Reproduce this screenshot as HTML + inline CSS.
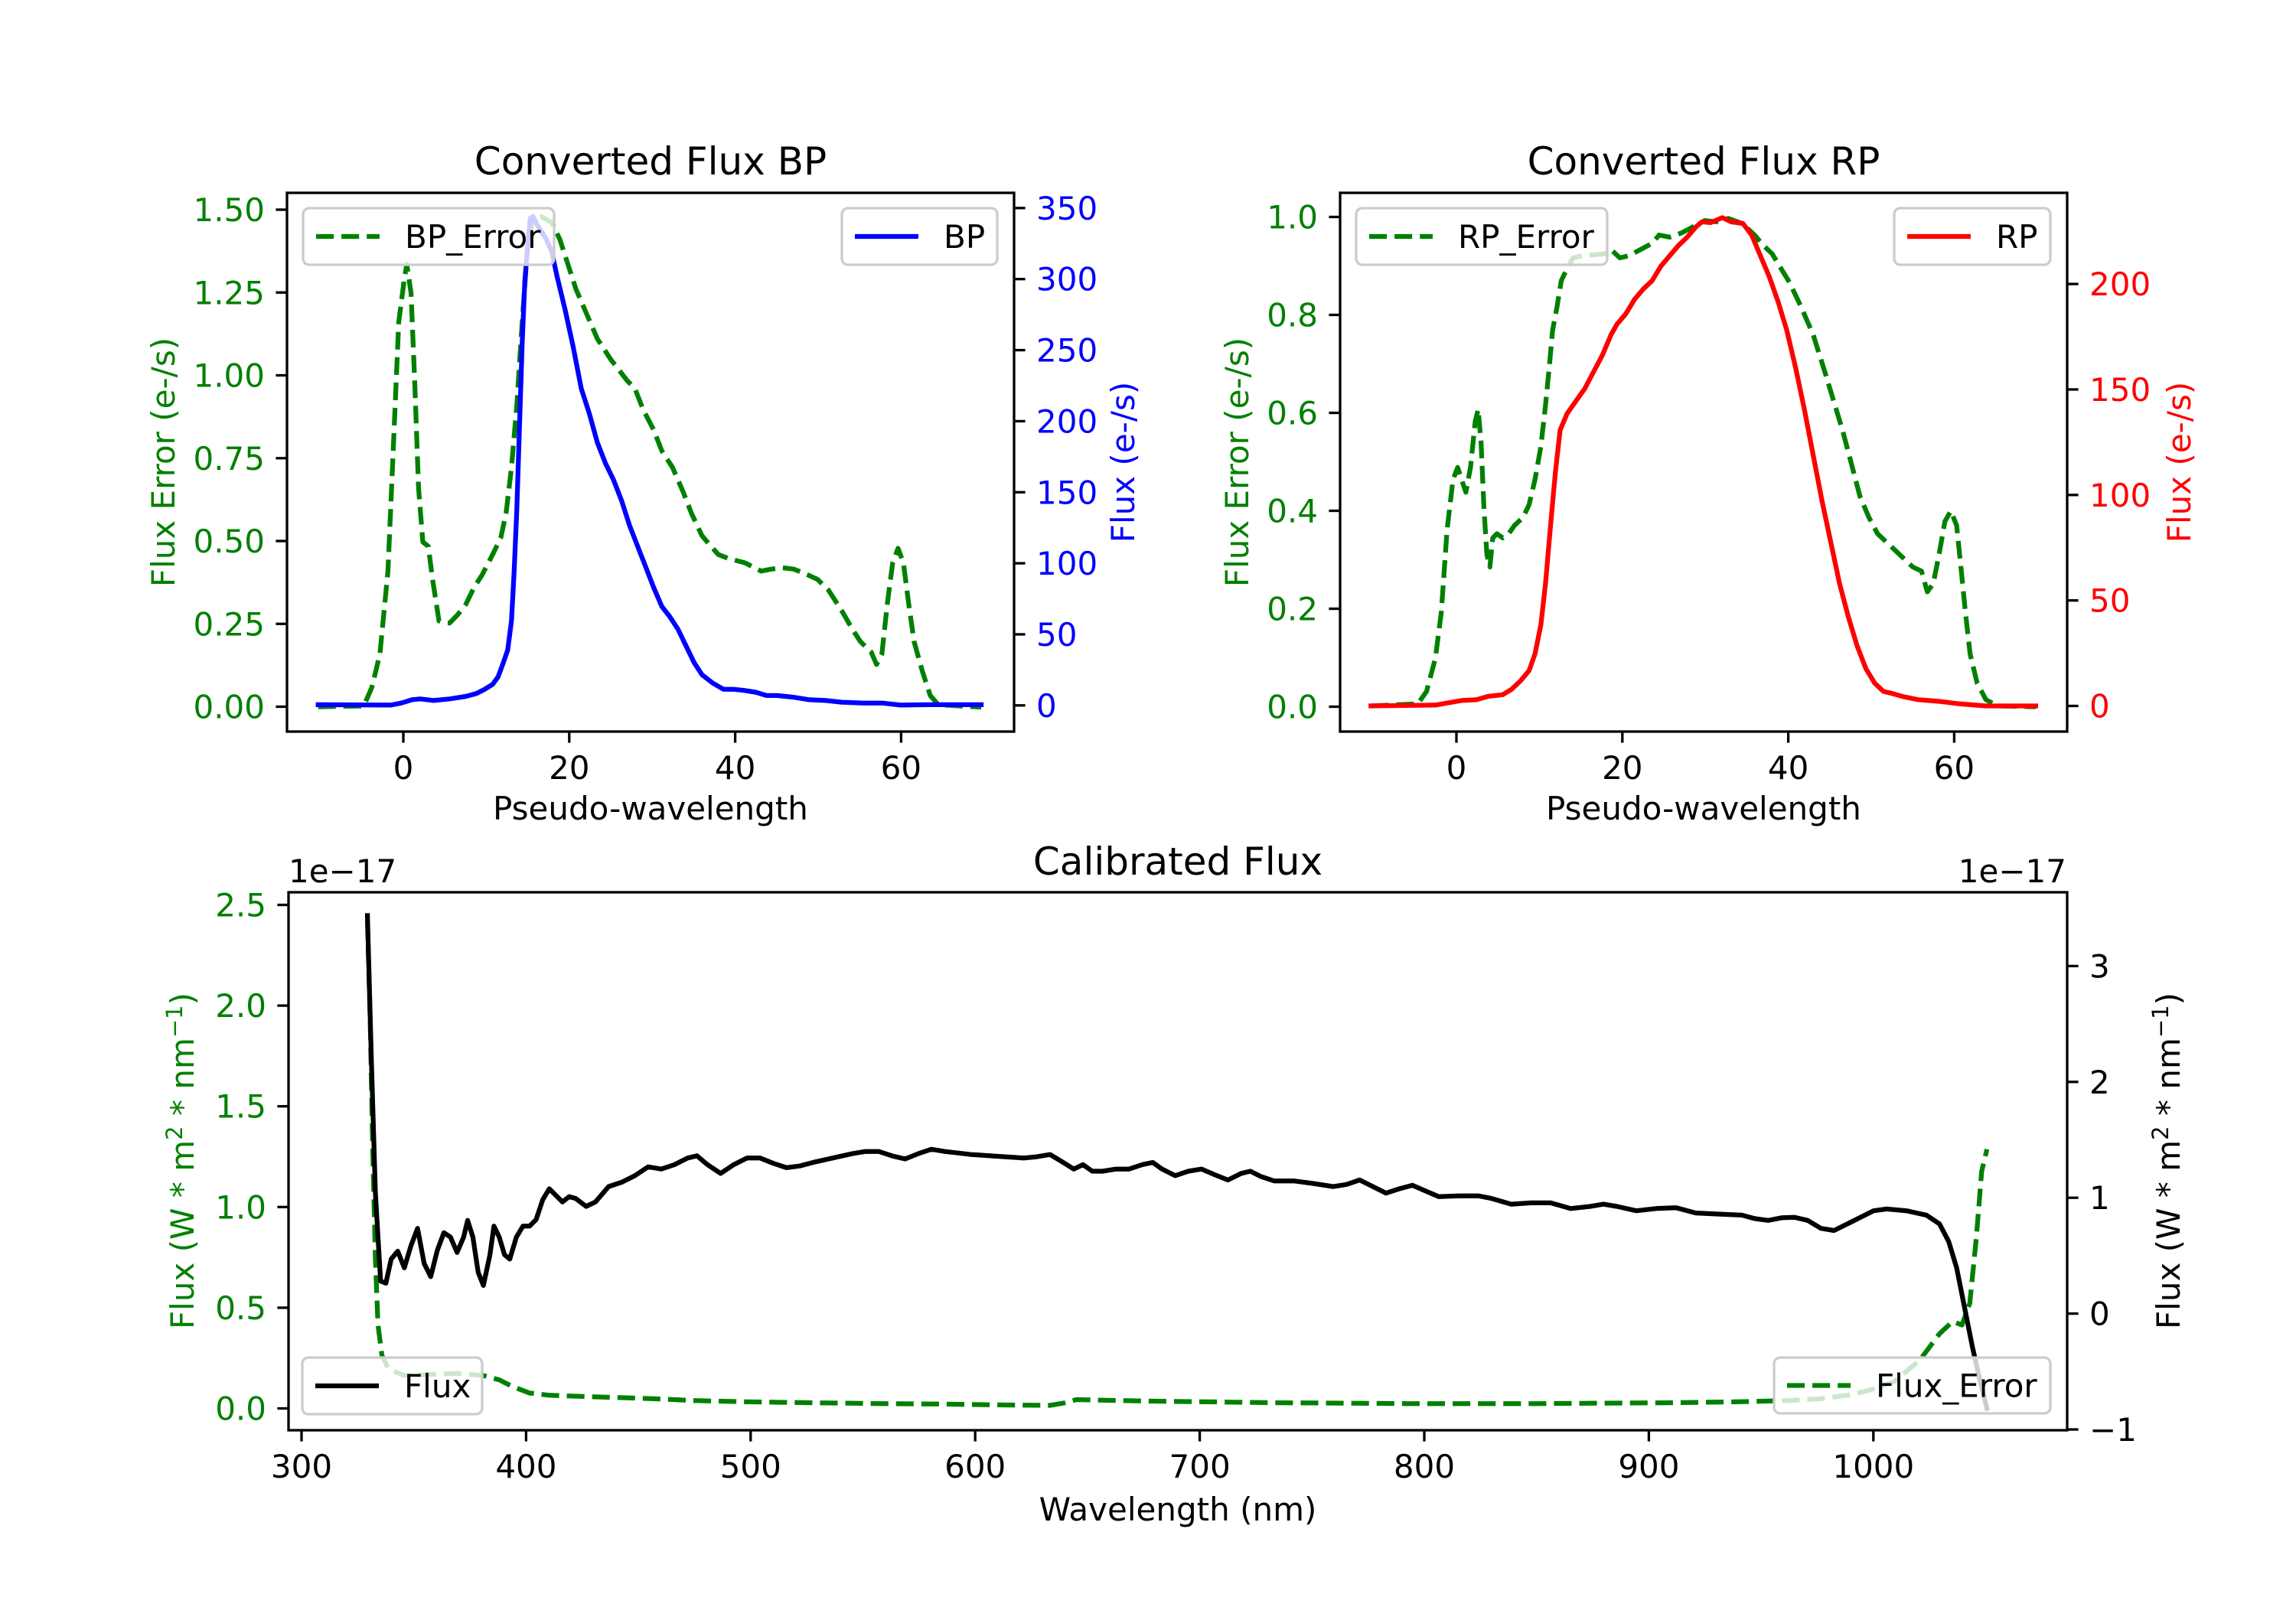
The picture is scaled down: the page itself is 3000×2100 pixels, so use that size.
<!DOCTYPE html>
<html><head><meta charset="utf-8">
<style>
html,body{margin:0;padding:0;background:#fff;}
svg{display:block;font-family:"DejaVu Sans","Liberation Sans",sans-serif;}
</style></head>
<body>
<svg id="s" width="3000" height="2100" viewBox="0 0 3000 2100" xmlns="http://www.w3.org/2000/svg">
<rect width="3000" height="2100" fill="#fff"/>
<g id="lines"></g>
<g id="frame"></g>
</svg>
<script>
const NS="http://www.w3.org/2000/svg";
const L=document.getElementById('lines'), F=document.getElementById('frame');
function el(parent,tag,attrs,text){const e=document.createElementNS(NS,tag);for(const k in attrs)e.setAttribute(k,attrs[k]);if(text!==undefined)e.textContent=text;parent.appendChild(e);return e;}
function path(pts,ox,oy,sx,sy,stroke,dash,clip){
  let d='';pts.forEach((p,i)=>{d+=(i?'L':'M')+(ox+p[0]/sx).toFixed(1)+','+(oy+p[1]/sy).toFixed(1);});
  const a={d:d,fill:'none',stroke:stroke,'stroke-width':6.25,'stroke-linejoin':'round','stroke-linecap':dash?'butt':'square'};
  if(dash)a['stroke-dasharray']='23.1,10';
  if(clip)a['clip-path']='url(#'+clip+')';
  el(L,'path',a);
}
const defs=el(document.getElementById('s'),'defs',{});
function clipR(id,x,y,w,h){const c=el(defs,'clipPath',{id:id});el(c,'rect',{x:x,y:y,width:w,height:h});}
clipR('c1',375,252,950,704);clipR('c2',1751,252,950,704);clipR('c3',377,1166,2324,703);

// BP (zoom1 coords: ox 300 sx 1.4255, oy 150 sy 1.8447)
const bpErr=[[165,1427],[250,1425],[265,1380],[280,1300],[295,1100],[305,800],[315,500],[325,400],[330,360],[338,430],[345,650],[352,900],[360,1030],[370,1040],[378,1120],[390,1220],[400,1225],[410,1225],[425,1205],[440,1180],[455,1140],[470,1110],[490,1060],[505,1020],[515,960],[525,850],[535,700],[545,500],[555,320],[565,250],[580,245],[600,260],[615,300],[630,360],[645,420],[665,480],[685,540],[710,590],[740,640],[755,660],[770,710],[790,760],[805,810],[825,850],[845,910],[860,960],[880,1015],[910,1060],[930,1070],[960,1080],[990,1100],[1010,1095],[1030,1092],[1050,1095],[1070,1105],[1095,1120],[1115,1145],[1140,1195],[1160,1240],[1175,1270],[1195,1295],[1205,1325],[1215,1300],[1225,1180],[1235,1080],[1245,1045],[1255,1080],[1265,1180],[1275,1270],[1290,1340],[1305,1400],[1320,1422],[1400,1428]];
const bp=[[165,1422],[300,1423],[320,1418],[340,1410],[355,1408],[380,1412],[410,1408],[440,1402],[460,1395],[475,1385],[490,1373],[500,1355],[510,1320],[518,1290],[525,1220],[530,1100],[535,950],[540,750],[545,550],[550,400],[555,320],[560,250],[565,245],[575,270],[590,300],[600,330],[610,390],[625,470],[640,560],[655,660],[670,720],[685,790],[700,840],[715,880],[730,930],[745,990],[760,1040],[775,1090],[790,1140],[805,1185],[820,1210],[835,1240],[850,1280],[865,1320],[880,1350],[900,1370],[920,1385],[940,1385],[960,1388],[980,1392],[1000,1400],[1020,1400],[1050,1404],[1080,1410],[1110,1412],[1140,1416],[1180,1418],[1215,1418],[1250,1423],[1300,1422],[1400,1422]];
path(bpErr,300,150,1.4255,1.8447,'#008000',true,'c1');
path(bp,300,150,1.4255,1.8447,'#0000ff',false,'c1');

// RP (zoom2: ox 1600 sx 1.3067)
const rpErr=[[250,1425],[330,1420],[345,1390],[360,1310],[370,1200],[380,1000],[390,880],[398,850],[405,880],[412,910],[420,850],[428,740],[433,710],[438,790],[443,950],[448,1060],[453,1090],[458,1020],[465,1010],[475,1020],[485,1010],[495,990],[510,970],[520,940],[530,880],[540,800],[548,700],[555,600],[560,520],[568,460],[575,400],[585,370],[595,345],[610,340],[650,335],[660,325],[675,345],[690,340],[710,325],[730,310],[742,290],[760,295],[780,285],[800,270],[820,255],[840,258],[860,250],[880,260],[890,270],[905,290],[920,315],[935,335],[950,370],[965,405],[985,465],[1005,530],[1025,620],[1040,690],[1055,760],[1070,840],[1085,920],[1100,970],[1115,1010],[1130,1030],[1145,1050],[1160,1070],[1175,1090],[1190,1100],[1200,1150],[1210,1130],[1220,1060],[1230,980],[1240,955],[1250,990],[1258,1100],[1265,1200],[1273,1300],[1285,1370],[1300,1410],[1320,1425],[1385,1427]];
const rp=[[250,1425],[360,1423],[380,1418],[405,1412],[430,1410],[450,1402],[475,1398],[490,1385],[505,1365],[520,1340],[530,1300],[540,1230],[548,1130],[556,1000],[565,860],[573,760],[585,720],[600,690],[615,660],[630,620],[645,580],[660,530],[670,505],[685,480],[700,445],[715,420],[730,400],[745,365],[760,340],[775,315],[790,295],[805,270],[815,258],[830,260],[850,248],[865,258],[885,262],[900,290],[915,340],[930,390],[945,450],[960,520],[975,610],[990,710],[1005,820],[1020,930],[1035,1030],[1050,1130],[1065,1210],[1080,1280],[1095,1335],[1110,1370],[1125,1390],[1140,1395],[1160,1403],[1185,1410],[1220,1414],[1255,1420],[1300,1425],[1385,1425]];
path(rpErr,1600,150,1.3067,1.8447,'#008000',true,'c2');
path(rp,1600,150,1.3067,1.8447,'#ff0000',false,'c2');

// Bottom (zoom3: ox 201.2 sx 0.5808, oy 1100 sy 1.742)
const fl=[[162,168],[165,500],[168,800],[172,1000],[176,1005],[180,950],[185,932],[190,970],[195,920],[200,880],[205,960],[210,990],[215,930],[220,890],[225,900],[230,935],[235,900],[238,862],[242,900],[246,980],[250,1010],[255,940],[258,875],[262,900],[266,940],[270,950],[275,900],[280,875],[285,875],[290,860],[295,815],[300,790],[305,805],[310,820],[315,808],[320,812],[328,830],[335,820],[345,785],[355,775],[365,760],[375,740],[385,745],[395,735],[405,720],[412,715],[420,735],[430,755],[440,735],[450,720],[460,720],[470,732],[480,742],[490,738],[500,730],[515,720],[530,710],[540,705],[550,705],[560,715],[570,722],[580,710],[590,700],[600,705],[620,712],[640,716],[660,720],[670,717],[680,712],[690,730],[698,745],[705,735],[712,750],[720,750],[730,745],[740,745],[750,735],[758,730],[765,745],[775,760],[785,750],[795,745],[805,758],[815,770],[825,755],[832,750],[840,762],[850,772],[865,772],[880,778],[895,785],[905,780],[915,770],[925,785],[935,800],[945,790],[955,782],[965,795],[975,808],[990,806],[1005,806],[1015,812],[1030,825],[1045,822],[1060,822],[1075,835],[1090,830],[1100,825],[1110,830],[1125,840],[1140,835],[1155,833],[1170,845],[1190,848],[1205,850],[1215,858],[1225,862],[1235,856],[1245,855],[1255,862],[1265,880],[1275,885],[1285,870],[1295,855],[1305,840],[1315,836],[1330,840],[1345,850],[1355,870],[1362,910],[1368,970],[1374,1060],[1380,1150],[1386,1230],[1391,1290]];
const fe=[[162,180],[164,400],[166,700],[168,950],[170,1100],[173,1170],[178,1200],[190,1215],[230,1210],[250,1215],[262,1225],[272,1240],[285,1255],[300,1260],[320,1262],[350,1265],[380,1268],[410,1272],[450,1275],[500,1277],[550,1279],[600,1280],[640,1282],[680,1283],[690,1278],[700,1270],[750,1273],[800,1275],[850,1277],[900,1278],[950,1279],[1000,1279],[1050,1279],[1100,1278],[1150,1277],[1200,1275],[1240,1272],[1265,1268],[1285,1260],[1300,1250],[1320,1230],[1340,1180],[1355,1120],[1365,1092],[1372,1100],[1378,1050],[1383,900],[1387,750],[1391,700]];
path(fe,201.2,1100,0.5808,1.742,'#008000',true,'c3');
path(fl,201.2,1100,0.5808,1.742,'#000000',false,'c3');

// Frames, ticks, labels
const FS=42;
function txt(x,y,s,opts){const a=Object.assign({x:x,y:y,'font-size':FS,fill:'#000'},opts||{});return el(F,'text',a,s);}
function box(x0,y0,x1,y1){el(F,'rect',{x:x0,y:y0,width:x1-x0,height:y1-y0,fill:'none',stroke:'#000','stroke-width':3.3});}
function yticks(xs,side,ticks,color){ticks.forEach(t=>{const [y,lab]=t;
  if(side<0){el(F,'line',{x1:xs-14.6,y1:y,x2:xs,y2:y,stroke:'#000','stroke-width':3.3});txt(xs-29,y+15,lab,{'text-anchor':'end',fill:color});}
  else{el(F,'line',{x1:xs,y1:y,x2:xs+14.6,y2:y,stroke:'#000','stroke-width':3.3});txt(xs+29,y+15,lab,{'text-anchor':'start',fill:color});}
});}
function xticks(yb,ticks){ticks.forEach(t=>{const [x,lab]=t;el(F,'line',{x1:x,y1:yb,x2:x,y2:yb+14.6,stroke:'#000','stroke-width':3.3});txt(x,yb+62,lab,{'text-anchor':'middle'});});}
function legend(x0,y0,x1,y1,color,dash,label){
  el(F,'rect',{x:x0,y:y0,width:x1-x0,height:y1-y0,rx:8,ry:8,fill:'rgba(255,255,255,0.8)',stroke:'#cccccc','stroke-width':3.3});
  const ym=(y0+y1)/2;
  const a={x1:x0+17,y1:ym,x2:x0+100,y2:ym,stroke:color,'stroke-width':6.25};
  if(dash)a['stroke-dasharray']='23.1,10';
  el(F,'line',a);
  txt(x0+133,ym+15,label);
}
function vlabel(x,y,s,color){const t=el(F,'text',{x:0,y:0,'font-size':FS,fill:color,'text-anchor':'middle',transform:'translate('+x+','+y+') rotate(-90)'},s);return t;}

// BP
const G='#008000';
box(375,252,1325,956);
yticks(375,-1,[0,0.25,0.5,0.75,1,1.25,1.5].map(v=>[923.5-433*v,v.toFixed(2)]),G);
yticks(1325,1,[0,50,100,150,200,250,300,350].map(v=>[921.8-1.857*v,String(v)]),'#0000ff');
xticks(956,[0,20,40,60].map(v=>[527+10.84*v,String(v)]));
txt(850,228,'Converted Flux BP',{'text-anchor':'middle','font-size':50});
txt(850,1071,'Pseudo-wavelength',{'text-anchor':'middle'});
vlabel(228,604,'Flux Error (e-/s)',G);
vlabel(1482,604,'Flux (e-/s)','#0000ff');
legend(396,272,724,346,G,true,'BP_Error');
legend(1100,272,1303,346,'#0000ff',false,'BP');

// RP
box(1751,252,2701,956);
yticks(1751,-1,[0,0.2,0.4,0.6,0.8,1.0].map(v=>[923.5-640*v,v.toFixed(1)]),G);
yticks(2701,1,[0,50,100,150,200].map(v=>[922.5-2.757*v,String(v)]),'#ff0000');
xticks(956,[0,20,40,60].map(v=>[1903+10.84*v,String(v)]));
txt(2226,228,'Converted Flux RP',{'text-anchor':'middle','font-size':50});
txt(2226,1071,'Pseudo-wavelength',{'text-anchor':'middle'});
vlabel(1631,604,'Flux Error (e-/s)',G);
vlabel(2862,604,'Flux (e-/s)','#ff0000');
legend(1772,272,2100,346,G,true,'RP_Error');
legend(2475,272,2679,346,'#ff0000',false,'RP');

// Bottom
box(377,1166,2701,1869);
yticks(377,-1,[0,0.5,1,1.5,2,2.5].map(v=>[1840.5-263.2*v,v.toFixed(1)]),G);
yticks(2701,1,[-1,0,1,2,3].map(v=>[1716.6-151.4*v,(v<0?'\u2212':'')+Math.abs(v)]),'#000');
xticks(1869,[300,400,500,600,700,800,900,1000].map(v=>[394+2.934*(v-300),String(v)]));
txt(1539,1143,'Calibrated Flux',{'text-anchor':'middle','font-size':50});
txt(1539,1987,'Wavelength (nm)',{'text-anchor':'middle'});
txt(377,1153,'1e\u221217',{'text-anchor':'start'});
txt(2700,1153,'1e\u221217',{'text-anchor':'end'});
function fluxLabel(x,color){
  const t=el(F,'text',{x:0,y:0,'font-size':FS,fill:color,'text-anchor':'middle',transform:'translate('+x+',1517) rotate(-90)'});
  el(t,'tspan',{},'Flux (W * m');
  el(t,'tspan',{dy:-15,'font-size':29},'2');
  el(t,'tspan',{dy:15},' * nm');
  el(t,'tspan',{dy:-15,'font-size':29},'\u22121');
  el(t,'tspan',{dy:15},')');
}
fluxLabel(253,G);
fluxLabel(2848,'#000');
legend(395,1774,630,1848,'#000',false,'Flux');
legend(2318,1774,2679,1847,G,true,'Flux_Error');
</script>
</body></html>
